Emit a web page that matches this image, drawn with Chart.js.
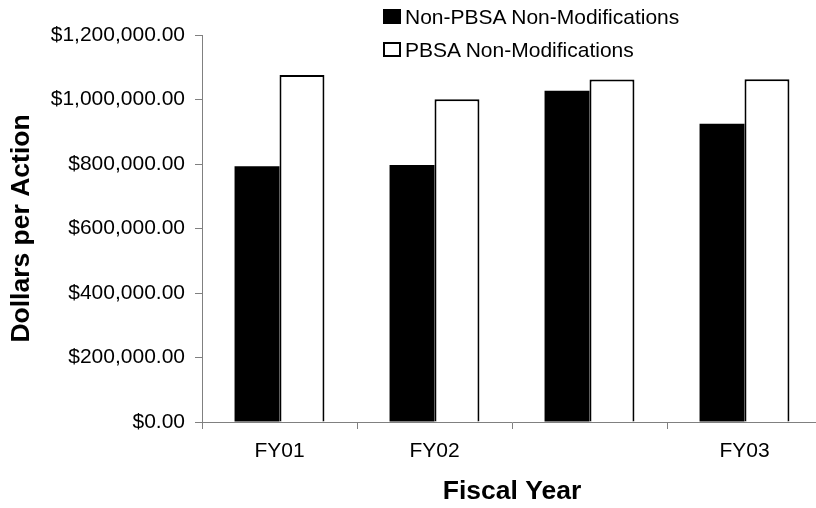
<!DOCTYPE html>
<html>
<head>
<meta charset="utf-8">
<script src="https://cdn.jsdelivr.net/npm/chart.js@4"></script>
<style>
  html, body { margin: 0; padding: 0; background: #fff; overflow: hidden; }
  #wrap { position: relative; width: 830px; height: 508px; }
  #legend { position: absolute; left: 0; top: 0; font-family: 'Liberation Sans', Arial, sans-serif; font-size: 21px; color: #000; }
  .swatch { position: absolute; width: 18px; height: 15px; box-sizing: border-box; border: 2px solid #000; }
  .label { position: absolute; white-space: nowrap; line-height: 21px; }
</style>
</head>
<body>
<div id="wrap">
  <canvas id="chart"></canvas>
  <div id="legend"></div>
</div>
<script>
// Fiscal-year categories (third slot has no label)
const categories = ['FY01', 'FY02', '', 'FY03'];

// Average dollars per action
const nonPbsaNonMods = [793000, 797000, 1027000, 925000];
const pbsaNonMods    = [1076000, 1001000, 1062000, 1063000];

const seriesNames = ['Non-PBSA Non-Modifications', 'PBSA Non-Modifications'];

// Value axis range
const yMin = 0;
const yMax = 1200000;
const yStep = 200000;

const AXIS_GRAY = '#808080';
const FONT = "'Liberation Sans', Arial, sans-serif";

Chart.defaults.font.family = FONT;
Chart.defaults.color = '#000';

function money(v) {
  return '$' + Number(v).toLocaleString('en-US', { minimumFractionDigits: 2, maximumFractionDigits: 2 });
}

const chart = new Chart(document.getElementById('chart'), {
  type: 'bar',
  data: {
    labels: categories,
    datasets: [
      {
        label: seriesNames[0],
        data: nonPbsaNonMods,
        backgroundColor: '#000',
        borderColor: '#000',
        borderWidth: 0
      },
      {
        label: seriesNames[1],
        data: pbsaNonMods,
        backgroundColor: '#fff',
        borderColor: '#000',
        borderWidth: 2
      }
    ]
  },
  options: {
    responsive: true,
    maintainAspectRatio: false,
    animation: false,
    devicePixelRatio: 1,
    categoryPercentage: 0.58,
    barPercentage: 1.0,
    layout: { padding: { top: 35, right: 8, bottom: 0, left: 0 } },
    plugins: {
      legend: { display: false },
      tooltip: { enabled: false }
    },
    scales: {
      x: {
        grid: {
          offset: true,
          drawOnChartArea: false,
          drawTicks: true,
          tickLength: 7,
          color: AXIS_GRAY
        },
        border: { display: true, color: AXIS_GRAY, width: 1 },
        ticks: {
          font: { size: 21 },
          color: '#000',
          padding: 10,
          maxRotation: 0,
          autoSkip: false
        },
        title: {
          display: true,
          text: 'Fiscal Year',
          font: { size: 26.5, weight: 'bold' },
          color: '#000',
          padding: { top: 0, bottom: 0 }
        },
        afterFit(scale) { scale.height = 86; }
      },
      y: {
        min: yMin,
        max: yMax,
        grid: {
          drawOnChartArea: false,
          drawTicks: true,
          tickLength: 7,
          color: AXIS_GRAY
        },
        border: { display: true, color: AXIS_GRAY, width: 1 },
        ticks: {
          stepSize: yStep,
          font: { size: 21 },
          color: '#000',
          padding: 10,
          callback: (v) => money(v)
        },
        title: {
          display: true,
          text: 'Dollars per Action',
          font: { size: 26.5, weight: 'bold' },
          color: '#000',
          padding: { top: 6, bottom: 0 }
        },
        afterFit(scale) { scale.width = 202; }
      }
    }
  }
});

// Legend built from the chart's own legend items, stacked in two rows
(function buildLegend() {
  const host = document.getElementById('legend');
  const items = chart.options.plugins.legend.labels.generateLabels(chart);
  const rowTops = [6, 39];
  const boxTops = [9, 42];
  items.forEach((it, i) => {
    const sw = document.createElement('div');
    sw.className = 'swatch';
    sw.style.left = '383px';
    sw.style.top = boxTops[i] + 'px';
    sw.style.background = it.fillStyle;
    host.appendChild(sw);
    const tx = document.createElement('div');
    tx.className = 'label';
    tx.style.left = '405px';
    tx.style.top = rowTops[i] + 'px';
    tx.textContent = it.text;
    host.appendChild(tx);
  });
})();
</script>
</body>
</html>
